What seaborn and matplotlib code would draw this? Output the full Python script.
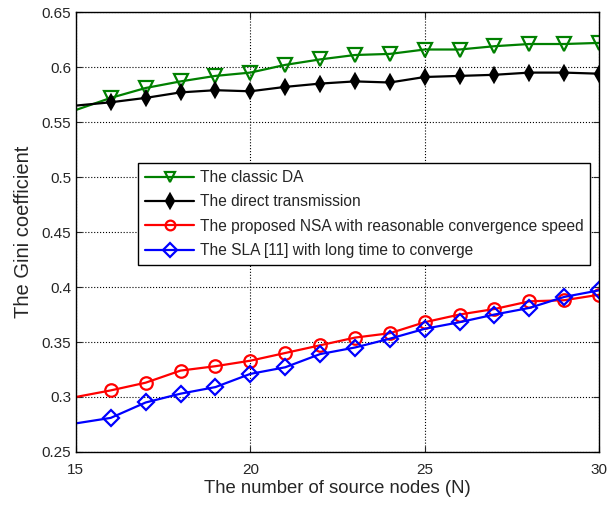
import matplotlib
matplotlib.use("Agg")
import matplotlib.pyplot as plt
import numpy as np
import pandas as pd
import seaborn as sns

# number of source nodes
nodes = list(range(15, 31))

# Gini coefficient for each scheme
classic_da = [0.561, 0.572, 0.581, 0.587, 0.592, 0.595, 0.602, 0.607, 0.611,
              0.612, 0.616, 0.616, 0.619, 0.621, 0.621, 0.622]
direct_tx = [0.565, 0.568, 0.572, 0.577, 0.579, 0.578, 0.582, 0.585, 0.587,
             0.586, 0.591, 0.592, 0.593, 0.595, 0.595, 0.594]
proposed_nsa = [0.300, 0.306, 0.313, 0.324, 0.328, 0.333, 0.340, 0.347, 0.354,
                0.358, 0.368, 0.375, 0.380, 0.387, 0.388, 0.393]
sla = [0.276, 0.281, 0.295, 0.303, 0.309, 0.321, 0.327, 0.339, 0.345,
       0.353, 0.362, 0.368, 0.375, 0.381, 0.391, 0.397]

labels = ['The classic DA', 'The direct transmission',
          'The proposed NSA with reasonable convergence speed',
          'The SLA [11] with long time to converge']

sns.set_style("ticks")
plt.rcParams['font.family'] = ['Liberation Sans', 'DejaVu Sans']

fig = plt.figure(figsize=(6.07, 5.05), dpi=100)
ax = fig.add_axes([0.125, 0.105, 0.862, 0.871])

styles = [
    dict(color='#008000', marker='v', markersize=10, mfc='none', mec='#008000', mew=1.6),
    dict(color='black', marker='d', markersize=7, mfc='black', mec='black', mew=1.6),
    dict(color='red', marker='o', markersize=9, mfc='none', mec='red', mew=1.6),
    dict(color='blue', marker='D', markersize=8, mfc='none', mec='blue', mew=1.6),
]

for vals, lab, st in zip([classic_da, direct_tx, proposed_nsa, sla], labels, styles):
    df = pd.DataFrame({'N': nodes, 'Gini': vals})
    sns.lineplot(data=df, x='N', y='Gini', ax=ax, label=lab, linewidth=1.6,
                 linestyle='-', markevery=list(range(1, len(nodes))), **st)

ax.set_xlim(15, 30)
ax.set_ylim(0.25, 0.65)
ax.set_xticks([15, 20, 25, 30])
ax.set_yticks(np.arange(0.25, 0.651, 0.05))
ax.set_yticklabels(['0.25', '0.3', '0.35', '0.4', '0.45', '0.5', '0.55', '0.6', '0.65'])
ax.grid(True, color='black', linestyle=':', linewidth=0.8)
ax.tick_params(direction='in', top=True, right=True, labelsize=11, length=4)
ax.tick_params(axis='x', pad=8)
for s in ax.spines.values():
    s.set_color('black')
    s.set_linewidth(1.0)

ax.set_xlabel('The number of source nodes (N)', fontsize=13.3, labelpad=2)
ax.set_ylabel('The Gini coefficient', fontsize=14.5, labelpad=6)

leg = ax.legend(loc='upper left', bbox_to_anchor=(0.118, 0.657), fontsize=11.2,
                fancybox=False, framealpha=1, edgecolor='black', borderpad=0.45,
                labelspacing=0.6, handlelength=3.2, handletextpad=0.35, borderaxespad=0)
leg.get_frame().set_linewidth(1.0)
for h in leg.legend_handles:
    h.set_markersize(7)
    h.set_linestyle('-')

fig.savefig('out.png', dpi=100)
